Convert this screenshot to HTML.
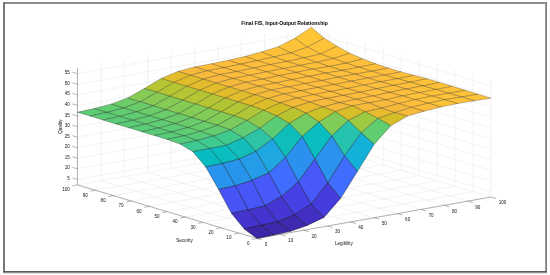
<!DOCTYPE html>
<html><head><meta charset="utf-8"><title>Final FIS, Input-Output Relationship</title>
<style>
html,body{margin:0;padding:0;background:#fff;}
body{width:550px;height:275px;overflow:hidden;position:relative;}
.fr{position:absolute;}
svg{position:absolute;left:0;top:0;filter:blur(0.3px);}
</style></head><body>
<div class="fr" style="left:3px;top:2px;width:544px;height:2px;background:#8a8a8a"></div>
<div class="fr" style="left:3px;top:2px;width:2px;height:271px;background:#787878"></div>
<div class="fr" style="left:545px;top:2px;width:1px;height:271px;background:#9c9c9c"></div>
<div class="fr" style="left:546px;top:2px;width:1px;height:271px;background:#7e7e7e"></div>
<div class="fr" style="left:3px;top:271px;width:544px;height:1px;background:#5a5a5a"></div>
<div class="fr" style="left:3px;top:272px;width:544px;height:1px;background:#8e8e8e"></div>
<div class="fr" style="left:4px;top:273px;width:544px;height:1px;background:#e2e2e2"></div>
<svg width="550" height="275" viewBox="0 0 550 275">
<path d="M257.1 238.5L491.1 197M257.1 238.5L77.45 184.9M77.45 184.9L77.45 67.98M491.1 197L491.1 80.08M239.14 233.14L473.13 191.64M280.5 234.35L100.85 180.75M100.85 180.75L100.85 63.83M473.13 191.64L473.13 74.72M221.17 227.78L455.17 186.28M303.9 230.2L124.25 176.6M124.25 176.6L124.25 59.68M455.17 186.28L455.17 69.36M203.21 222.42L437.21 180.92M327.3 226.05L147.65 172.45M147.65 172.45L147.65 55.53M437.21 180.92L437.21 64M185.24 217.06L419.24 175.56M350.7 221.9L171.05 168.3M171.05 168.3L171.05 51.38M419.24 175.56L419.24 58.64M167.28 211.7L401.27 170.2M374.1 217.75L194.45 164.15M194.45 164.15L194.45 47.23M401.27 170.2L401.27 53.28M149.31 206.34L383.31 164.84M397.5 213.6L217.85 160M217.85 160L217.85 43.08M383.31 164.84L383.31 47.92M131.35 200.98L365.35 159.48M420.9 209.45L241.25 155.85M241.25 155.85L241.25 38.93M365.35 159.48L365.35 42.56M113.38 195.62L347.38 154.12M444.3 205.3L264.65 151.7M264.65 151.7L264.65 34.78M347.38 154.12L347.38 37.2M95.41 190.26L329.41 148.76M467.7 201.15L288.05 147.55M288.05 147.55L288.05 30.63M329.41 148.76L329.41 31.84M77.45 184.9L311.45 143.4M491.1 197L311.45 143.4M311.45 143.4L311.45 26.48M311.45 143.4L311.45 26.48M77.45 179.44L311.45 137.94M311.45 137.94L491.1 191.54M77.45 168.87L311.45 127.37M311.45 127.37L491.1 180.97M77.45 158.29L311.45 116.79M311.45 116.79L491.1 170.39M77.45 147.72L311.45 106.22M311.45 106.22L491.1 159.82M77.45 137.14L311.45 95.64M311.45 95.64L491.1 149.24M77.45 126.57L311.45 85.07M311.45 85.07L491.1 138.67M77.45 115.99L311.45 74.49M311.45 74.49L491.1 128.09M77.45 105.42L311.45 63.92M311.45 63.92L491.1 117.52M77.45 94.84L311.45 53.34M311.45 53.34L491.1 106.94M77.45 84.27L311.45 42.77M311.45 42.77L491.1 96.37M77.45 73.69L311.45 32.19M311.45 32.19L491.1 85.79" fill="none" stroke="#e7e7e7" stroke-width="0.5"/>
<path d="M77.45 184.9L77.45 67.98M77.45 184.9L257.1 238.5M257.1 238.5L491.1 197M257.1 238.5L251.88 239.43M257.1 238.5L262.18 240.02M239.14 233.14L233.92 234.07M280.5 234.35L285.58 235.87M221.17 227.78L215.95 228.71M303.9 230.2L308.98 231.72M203.21 222.42L197.99 223.35M327.3 226.05L332.38 227.57M185.24 217.06L180.02 217.99M350.7 221.9L355.78 223.42M167.28 211.7L162.06 212.63M374.1 217.75L379.18 219.27M149.31 206.34L144.09 207.27M397.5 213.6L402.58 215.12M131.35 200.98L126.13 201.91M420.9 209.45L425.98 210.97M113.38 195.62L108.16 196.55M444.3 205.3L449.38 206.82M95.41 190.26L90.2 191.19M467.7 201.15L472.78 202.67M77.45 184.9L72.23 185.83M491.1 197L496.18 198.52M77.45 179.44L72.37 177.93M77.45 168.87L72.37 167.35M77.45 158.29L72.37 156.78M77.45 147.72L72.37 146.2M77.45 137.14L72.37 135.63M77.45 126.57L72.37 125.05M77.45 115.99L72.37 114.48M77.45 105.42L72.37 103.9M77.45 94.84L72.37 93.33M77.45 84.27L72.37 82.75M77.45 73.69L72.37 72.18" fill="none" stroke="#6c6c6c" stroke-width="0.5"/>
<g stroke="#000" stroke-opacity="0.55" stroke-width="0.45" stroke-linejoin="round">
<path d="M307.57 47.02L324.28 38.14L311.45 27.33L294.74 38.33Z" fill="#fec636" stroke-opacity="0.48"/>
<path d="M290.85 52.95L307.57 47.02L294.74 38.33L278.02 46.79Z" fill="#fec338" stroke-opacity="0.48"/>
<path d="M320.4 54.02L337.11 46.2L324.28 38.14L307.57 47.02Z" fill="#fec339" stroke-opacity="0.49"/>
<path d="M274.14 56.97L290.85 52.95L278.02 46.79L261.31 52.08Z" fill="#fec239" stroke-opacity="0.49"/>
<path d="M303.69 57.83L320.4 54.02L307.57 47.02L290.85 52.95Z" fill="#fec239" stroke-opacity="0.49"/>
<path d="M333.23 58.49L349.95 53.2L337.11 46.2L320.4 54.02Z" fill="#fec239" stroke-opacity="0.49"/>
<path d="M257.42 60.55L274.14 56.97L261.31 52.08L244.59 56.53Z" fill="#fec03a" stroke-opacity="0.49"/>
<path d="M286.97 61.43L303.69 57.83L290.85 52.95L274.14 56.97Z" fill="#fec03a" stroke-opacity="0.49"/>
<path d="M316.52 62.3L333.23 58.49L320.4 54.02L303.69 57.83Z" fill="#fec03a" stroke-opacity="0.49"/>
<path d="M346.06 63.16L362.78 58.93L349.95 53.2L333.23 58.49Z" fill="#fec03a" stroke-opacity="0.49"/>
<path d="M240.71 64.17L257.42 60.55L244.59 56.53L227.88 60.34Z" fill="#febe3c" stroke-opacity="0.49"/>
<path d="M270.26 64.54L286.97 61.43L274.14 56.97L257.42 60.55Z" fill="#fec03b" stroke-opacity="0.49"/>
<path d="M299.8 65.47L316.52 62.3L303.69 57.83L286.97 61.43Z" fill="#fec03b" stroke-opacity="0.49"/>
<path d="M329.35 66.44L346.06 63.16L333.23 58.49L316.52 62.3Z" fill="#febf3b" stroke-opacity="0.49"/>
<path d="M224 67.66L240.71 64.17L227.88 60.34L211.16 63.83Z" fill="#fdbd3d" stroke-opacity="0.49"/>
<path d="M358.9 67.2L375.61 63.81L362.78 58.93L346.06 63.16Z" fill="#fec03b" stroke-opacity="0.49"/>
<path d="M253.54 68L270.26 64.54L257.42 60.55L240.71 64.17Z" fill="#febe3c" stroke-opacity="0.49"/>
<path d="M283.09 68.52L299.8 65.47L286.97 61.43L270.26 64.54Z" fill="#febf3b" stroke-opacity="0.49"/>
<path d="M312.64 69.09L329.35 66.44L316.52 62.3L299.8 65.47Z" fill="#fec03a" stroke-opacity="0.49"/>
<path d="M207.28 70.73L224 67.66L211.16 63.83L194.45 66.9Z" fill="#fdbd3d" stroke-opacity="0.49"/>
<path d="M342.18 70.38L358.9 67.2L346.06 63.16L329.35 66.44Z" fill="#febf3b" stroke-opacity="0.49"/>
<path d="M236.83 71.5L253.54 68L240.71 64.17L224 67.66Z" fill="#fdbd3d" stroke-opacity="0.49"/>
<path d="M371.73 71.24L388.44 68.07L375.61 63.81L358.9 67.2Z" fill="#febf3b" stroke-opacity="0.49"/>
<path d="M266.38 71.83L283.09 68.52L270.26 64.54L253.54 68Z" fill="#febe3c" stroke-opacity="0.49"/>
<path d="M295.92 72.4L312.64 69.09L299.8 65.47L283.09 68.52Z" fill="#febf3b" stroke-opacity="0.49"/>
<path d="M190.57 75.28L207.28 70.73L194.45 66.9L177.74 71.45Z" fill="#f7ba3c" stroke-opacity="0.50"/>
<path d="M325.47 73.13L342.18 70.38L329.35 66.44L312.64 69.09Z" fill="#fec03b" stroke-opacity="0.49"/>
<path d="M220.11 74.6L236.83 71.5L224 67.66L207.28 70.73Z" fill="#fcbd3d" stroke-opacity="0.49"/>
<path d="M355.01 74.13L371.73 71.24L358.9 67.2L342.18 70.38Z" fill="#febf3b" stroke-opacity="0.49"/>
<path d="M249.66 75.34L266.38 71.83L253.54 68L236.83 71.5Z" fill="#fdbd3d" stroke-opacity="0.49"/>
<path d="M384.56 75.11L401.27 71.89L388.44 68.07L371.73 71.24Z" fill="#febf3b" stroke-opacity="0.49"/>
<path d="M279.21 75.66L295.92 72.4L283.09 68.52L266.38 71.83Z" fill="#febe3c" stroke-opacity="0.49"/>
<path d="M173.85 82.37L190.57 75.28L177.74 71.45L161.02 78.54Z" fill="#e3bc2c" stroke-opacity="0.52"/>
<path d="M308.75 76.43L325.47 73.13L312.64 69.09L295.92 72.4Z" fill="#febf3c" stroke-opacity="0.49"/>
<path d="M203.4 79.18L220.11 74.6L207.28 70.73L190.57 75.28Z" fill="#f7ba3c" stroke-opacity="0.50"/>
<path d="M338.3 77.22L355.01 74.13L342.18 70.38L325.47 73.13Z" fill="#febf3c" stroke-opacity="0.49"/>
<path d="M232.95 78.47L249.66 75.34L236.83 71.5L220.11 74.6Z" fill="#fcbd3d" stroke-opacity="0.49"/>
<path d="M367.85 78.07L384.56 75.11L371.73 71.24L355.01 74.13Z" fill="#febf3b" stroke-opacity="0.49"/>
<path d="M262.49 79.17L279.21 75.66L266.38 71.83L249.66 75.34Z" fill="#fdbd3d" stroke-opacity="0.49"/>
<path d="M157.14 92.31L173.85 82.37L161.02 78.54L144.31 88.49Z" fill="#b7c532" stroke-opacity="0.54"/>
<path d="M397.39 78.69L414.11 75.3L401.27 71.89L384.56 75.11Z" fill="#fec03b" stroke-opacity="0.49"/>
<path d="M292.04 79.6L308.75 76.43L295.92 72.4L279.21 75.66Z" fill="#febe3c" stroke-opacity="0.49"/>
<path d="M186.69 86.3L203.4 79.18L190.57 75.28L173.85 82.37Z" fill="#e3bc2c" stroke-opacity="0.52"/>
<path d="M321.59 80.49L338.3 77.22L325.47 73.13L308.75 76.43Z" fill="#febe3c" stroke-opacity="0.49"/>
<path d="M216.23 83.07L232.95 78.47L220.11 74.6L203.4 79.18Z" fill="#f7ba3c" stroke-opacity="0.50"/>
<path d="M351.13 81.2L367.85 78.07L355.01 74.13L338.3 77.22Z" fill="#febe3c" stroke-opacity="0.49"/>
<path d="M245.78 82.3L262.49 79.17L249.66 75.34L232.95 78.47Z" fill="#fcbd3d" stroke-opacity="0.49"/>
<path d="M140.42 101.83L157.14 92.31L144.31 88.49L127.59 98.01Z" fill="#86cb55" stroke-opacity="0.57"/>
<path d="M380.68 81.81L397.39 78.69L384.56 75.11L367.85 78.07Z" fill="#febf3b" stroke-opacity="0.49"/>
<path d="M275.32 83.01L292.04 79.6L279.21 75.66L262.49 79.17Z" fill="#fdbd3d" stroke-opacity="0.49"/>
<path d="M169.97 96.25L186.69 86.3L173.85 82.37L157.14 92.31Z" fill="#b6c532" stroke-opacity="0.54"/>
<path d="M410.23 82.19L426.94 78.71L414.11 75.3L397.39 78.69Z" fill="#fec13a" stroke-opacity="0.49"/>
<path d="M304.87 83.53L321.59 80.49L308.75 76.43L292.04 79.6Z" fill="#febe3c" stroke-opacity="0.49"/>
<path d="M199.52 90.22L216.23 83.07L203.4 79.18L186.69 86.3Z" fill="#e2bc2b" stroke-opacity="0.52"/>
<path d="M334.42 84.51L351.13 81.2L338.3 77.22L321.59 80.49Z" fill="#febd3c" stroke-opacity="0.49"/>
<path d="M229.06 86.9L245.78 82.3L232.95 78.47L216.23 83.07Z" fill="#f7ba3c" stroke-opacity="0.50"/>
<path d="M123.71 107.97L140.42 101.83L127.59 98.01L110.88 104.14Z" fill="#6ccd68" stroke-opacity="0.58"/>
<path d="M363.96 85.07L380.68 81.81L367.85 78.07L351.13 81.2Z" fill="#febe3c" stroke-opacity="0.49"/>
<path d="M258.61 86.16L275.32 83.01L262.49 79.17L245.78 82.3Z" fill="#fcbd3d" stroke-opacity="0.49"/>
<path d="M153.26 105.77L169.97 96.25L157.14 92.31L140.42 101.83Z" fill="#85cb56" stroke-opacity="0.57"/>
<path d="M393.51 85.39L410.23 82.19L397.39 78.69L380.68 81.81Z" fill="#fec03b" stroke-opacity="0.49"/>
<path d="M288.16 86.84L304.87 83.53L292.04 79.6L275.32 83.01Z" fill="#fdbd3d" stroke-opacity="0.49"/>
<path d="M182.8 100.19L199.52 90.22L186.69 86.3L169.97 96.25Z" fill="#b6c533" stroke-opacity="0.54"/>
<path d="M423.06 85.89L439.77 82.53L426.94 78.71L410.23 82.19Z" fill="#fec13a" stroke-opacity="0.49"/>
<path d="M317.7 87.47L334.42 84.51L321.59 80.49L304.87 83.53Z" fill="#febd3c" stroke-opacity="0.49"/>
<path d="M212.35 94.05L229.06 86.9L216.23 83.07L199.52 90.22Z" fill="#e2bc2b" stroke-opacity="0.52"/>
<path d="M107 112.42L123.71 107.97L110.88 104.14L94.16 108.59Z" fill="#61cd71" stroke-opacity="0.59"/>
<path d="M347.25 88.49L363.96 85.07L351.13 81.2L334.42 84.51Z" fill="#fdbd3d" stroke-opacity="0.49"/>
<path d="M241.9 90.8L258.61 86.16L245.78 82.3L229.06 86.9Z" fill="#f6ba3c" stroke-opacity="0.50"/>
<path d="M136.54 111.91L153.26 105.77L140.42 101.83L123.71 107.97Z" fill="#6bcd69" stroke-opacity="0.58"/>
<path d="M376.8 88.74L393.51 85.39L380.68 81.81L363.96 85.07Z" fill="#febf3c" stroke-opacity="0.49"/>
<path d="M271.44 90.03L288.16 86.84L275.32 83.01L258.61 86.16Z" fill="#fcbd3d" stroke-opacity="0.49"/>
<path d="M166.09 109.71L182.8 100.19L169.97 96.25L153.26 105.77Z" fill="#84cc56" stroke-opacity="0.57"/>
<path d="M406.34 89.03L423.06 85.89L410.23 82.19L393.51 85.39Z" fill="#fec03a" stroke-opacity="0.49"/>
<path d="M300.99 90.67L317.7 87.47L304.87 83.53L288.16 86.84Z" fill="#fdbd3d" stroke-opacity="0.49"/>
<path d="M195.64 104.02L212.35 94.05L199.52 90.22L182.8 100.19Z" fill="#b6c533" stroke-opacity="0.54"/>
<path d="M435.89 89.52L452.6 86.36L439.77 82.53L423.06 85.89Z" fill="#fec239" stroke-opacity="0.49"/>
<path d="M90.28 116.01L107 112.42L94.16 108.59L77.45 112.19Z" fill="#5dcc75" stroke-opacity="0.59"/>
<path d="M330.54 91.42L347.25 88.49L334.42 84.51L317.7 87.47Z" fill="#fdbd3d" stroke-opacity="0.49"/>
<path d="M225.18 97.98L241.9 90.8L229.06 86.9L212.35 94.05Z" fill="#e2bc2b" stroke-opacity="0.52"/>
<path d="M119.83 116.35L136.54 111.91L123.71 107.97L107 112.42Z" fill="#61cd72" stroke-opacity="0.59"/>
<path d="M360.08 92.26L376.8 88.74L363.96 85.07L347.25 88.49Z" fill="#fdbd3d" stroke-opacity="0.49"/>
<path d="M254.73 94.69L271.44 90.03L258.61 86.16L241.9 90.8Z" fill="#f6ba3b" stroke-opacity="0.50"/>
<path d="M149.38 115.84L166.09 109.71L153.26 105.77L136.54 111.91Z" fill="#6bcd69" stroke-opacity="0.58"/>
<path d="M389.63 92.4L406.34 89.03L393.51 85.39L376.8 88.74Z" fill="#febf3b" stroke-opacity="0.49"/>
<path d="M284.27 93.86L300.99 90.67L288.16 86.84L271.44 90.03Z" fill="#fcbd3d" stroke-opacity="0.49"/>
<path d="M178.92 113.53L195.64 104.02L182.8 100.19L166.09 109.71Z" fill="#84cc56" stroke-opacity="0.57"/>
<path d="M419.18 92.55L435.89 89.52L423.06 85.89L406.34 89.03Z" fill="#fec13a" stroke-opacity="0.49"/>
<path d="M313.82 94.58L330.54 91.42L317.7 87.47L300.99 90.67Z" fill="#fdbd3d" stroke-opacity="0.49"/>
<path d="M208.47 107.96L225.18 97.98L212.35 94.05L195.64 104.02Z" fill="#b5c533" stroke-opacity="0.54"/>
<path d="M448.72 93.2L465.44 90.3L452.6 86.36L435.89 89.52Z" fill="#fec239" stroke-opacity="0.49"/>
<path d="M103.11 119.95L119.83 116.35L107 112.42L90.28 116.01Z" fill="#5ccc76" stroke-opacity="0.59"/>
<path d="M343.37 95.43L360.08 92.26L347.25 88.49L330.54 91.42Z" fill="#fdbd3d" stroke-opacity="0.49"/>
<path d="M238.01 101.9L254.73 94.69L241.9 90.8L225.18 97.98Z" fill="#e1bc2b" stroke-opacity="0.52"/>
<path d="M132.66 120.28L149.38 115.84L136.54 111.91L119.83 116.35Z" fill="#60cd72" stroke-opacity="0.59"/>
<path d="M372.91 96.04L389.63 92.4L376.8 88.74L360.08 92.26Z" fill="#fdbd3d" stroke-opacity="0.49"/>
<path d="M267.56 98.52L284.27 93.86L271.44 90.03L254.73 94.69Z" fill="#f6ba3b" stroke-opacity="0.50"/>
<path d="M162.21 119.67L178.92 113.53L166.09 109.71L149.38 115.84Z" fill="#6bcd69" stroke-opacity="0.58"/>
<path d="M402.46 95.95L419.18 92.55L406.34 89.03L389.63 92.4Z" fill="#fec03b" stroke-opacity="0.49"/>
<path d="M297.11 98L313.82 94.58L300.99 90.67L284.27 93.86Z" fill="#fbbc3d" stroke-opacity="0.49"/>
<path d="M191.75 117.47L208.47 107.96L195.64 104.02L178.92 113.53Z" fill="#83cc57" stroke-opacity="0.57"/>
<path d="M432.01 96.1L448.72 93.2L435.89 89.52L419.18 92.55Z" fill="#fec239" stroke-opacity="0.49"/>
<path d="M326.65 98.4L343.37 95.43L330.54 91.42L313.82 94.58Z" fill="#fdbd3d" stroke-opacity="0.49"/>
<path d="M221.3 111.89L238.01 101.9L225.18 97.98L208.47 107.96Z" fill="#b4c533" stroke-opacity="0.54"/>
<path d="M461.55 96.97L478.27 94.23L465.44 90.3L448.72 93.2Z" fill="#fec239" stroke-opacity="0.49"/>
<path d="M115.95 123.88L132.66 120.28L119.83 116.35L103.11 119.95Z" fill="#5bcc76" stroke-opacity="0.59"/>
<path d="M356.2 99.26L372.91 96.04L360.08 92.26L343.37 95.43Z" fill="#fdbd3d" stroke-opacity="0.49"/>
<path d="M250.85 105.73L267.56 98.52L254.73 94.69L238.01 101.9Z" fill="#e1bc2b" stroke-opacity="0.52"/>
<path d="M145.49 124.11L162.21 119.67L149.38 115.84L132.66 120.28Z" fill="#60cd72" stroke-opacity="0.59"/>
<path d="M385.75 99.81L402.46 95.95L389.63 92.4L372.91 96.04Z" fill="#febd3c" stroke-opacity="0.49"/>
<path d="M280.39 102.89L297.11 98L284.27 93.86L267.56 98.52Z" fill="#f4ba39" stroke-opacity="0.50"/>
<path d="M175.04 123.61L191.75 117.47L178.92 113.53L162.21 119.67Z" fill="#6acd6a" stroke-opacity="0.58"/>
<path d="M415.29 99.5L432.01 96.1L419.18 92.55L402.46 95.95Z" fill="#fec13a" stroke-opacity="0.49"/>
<path d="M309.94 101.99L326.65 98.4L313.82 94.58L297.11 98Z" fill="#fbbc3d" stroke-opacity="0.50"/>
<path d="M204.59 121.41L221.3 111.89L208.47 107.96L191.75 117.47Z" fill="#82cc58" stroke-opacity="0.57"/>
<path d="M444.84 99.78L461.55 96.97L448.72 93.2L432.01 96.1Z" fill="#fec239" stroke-opacity="0.49"/>
<path d="M339.49 102.65L356.2 99.26L343.37 95.43L326.65 98.4Z" fill="#fbbc3d" stroke-opacity="0.49"/>
<path d="M234.13 115.72L250.85 105.73L238.01 101.9L221.3 111.89Z" fill="#b4c533" stroke-opacity="0.54"/>
<path d="M474.39 100.81L491.1 98.17L478.27 94.23L461.55 96.97Z" fill="#fec239" stroke-opacity="0.49"/>
<path d="M128.78 127.71L145.49 124.11L132.66 120.28L115.95 123.88Z" fill="#5bcc76" stroke-opacity="0.59"/>
<path d="M369.03 102.77L385.75 99.81L372.91 96.04L356.2 99.26Z" fill="#febd3c" stroke-opacity="0.49"/>
<path d="M263.68 110.23L280.39 102.89L267.56 98.52L250.85 105.73Z" fill="#ddbd29" stroke-opacity="0.52"/>
<path d="M158.32 128.05L175.04 123.61L162.21 119.67L145.49 124.11Z" fill="#5fcd73" stroke-opacity="0.59"/>
<path d="M398.58 103.57L415.29 99.5L402.46 95.95L385.75 99.81Z" fill="#febe3c" stroke-opacity="0.49"/>
<path d="M293.23 107.39L309.94 101.99L297.11 98L280.39 102.89Z" fill="#f1ba36" stroke-opacity="0.50"/>
<path d="M187.87 127.54L204.59 121.41L191.75 117.47L175.04 123.61Z" fill="#69cd6b" stroke-opacity="0.58"/>
<path d="M428.12 103.18L444.84 99.78L432.01 96.1L415.29 99.5Z" fill="#fec13a" stroke-opacity="0.49"/>
<path d="M322.77 106.88L339.49 102.65L326.65 98.4L309.94 101.99Z" fill="#f7ba3c" stroke-opacity="0.50"/>
<path d="M217.42 125.24L234.13 115.72L221.3 111.89L204.59 121.41Z" fill="#82cc58" stroke-opacity="0.57"/>
<path d="M457.67 103.57L474.39 100.81L461.55 96.97L444.84 99.78Z" fill="#fec239" stroke-opacity="0.49"/>
<path d="M352.32 105.84L369.03 102.77L356.2 99.26L339.49 102.65Z" fill="#fdbd3d" stroke-opacity="0.49"/>
<path d="M246.96 120.43L263.68 110.23L250.85 105.73L234.13 115.72Z" fill="#aec637" stroke-opacity="0.55"/>
<path d="M141.61 131.65L158.32 128.05L145.49 124.11L128.78 127.71Z" fill="#5bcc77" stroke-opacity="0.59"/>
<path d="M381.86 108.19L398.58 103.57L385.75 99.81L369.03 102.77Z" fill="#f9ba3d" stroke-opacity="0.50"/>
<path d="M276.51 115.96L293.23 107.39L280.39 102.89L263.68 110.23Z" fill="#d2bf27" stroke-opacity="0.53"/>
<path d="M171.16 131.98L187.87 127.54L175.04 123.61L158.32 128.05Z" fill="#5ecd74" stroke-opacity="0.59"/>
<path d="M411.41 107.37L428.12 103.18L415.29 99.5L398.58 103.57Z" fill="#febe3c" stroke-opacity="0.49"/>
<path d="M306.06 113.23L322.77 106.88L309.94 101.99L293.23 107.39Z" fill="#e7bb2d" stroke-opacity="0.51"/>
<path d="M200.7 131.37L217.42 125.24L204.59 121.41L187.87 127.54Z" fill="#69cd6b" stroke-opacity="0.58"/>
<path d="M440.96 106.95L457.67 103.57L444.84 99.78L428.12 103.18Z" fill="#fec239" stroke-opacity="0.49"/>
<path d="M335.6 111.66L352.32 105.84L339.49 102.65L322.77 106.88Z" fill="#f2ba38" stroke-opacity="0.50"/>
<path d="M230.25 129.92L246.96 120.43L234.13 115.72L217.42 125.24Z" fill="#7bcc5d" stroke-opacity="0.57"/>
<path d="M365.15 111.78L381.86 108.19L369.03 102.77L352.32 105.84Z" fill="#f6ba3b" stroke-opacity="0.50"/>
<path d="M259.8 128.23L276.51 115.96L263.68 110.23L246.96 120.43Z" fill="#90ca4d" stroke-opacity="0.56"/>
<path d="M154.44 135.58L171.16 131.98L158.32 128.05L141.61 131.65Z" fill="#5acc77" stroke-opacity="0.59"/>
<path d="M394.7 112.65L411.41 107.37L398.58 103.57L381.86 108.19Z" fill="#f6ba3b" stroke-opacity="0.50"/>
<path d="M289.34 123.38L306.06 113.23L293.23 107.39L276.51 115.96Z" fill="#bac430" stroke-opacity="0.54"/>
<path d="M183.99 135.81L200.7 131.37L187.87 127.54L171.16 131.98Z" fill="#5ecd74" stroke-opacity="0.59"/>
<path d="M424.24 111.19L440.96 106.95L428.12 103.18L411.41 107.37Z" fill="#febe3c" stroke-opacity="0.49"/>
<path d="M318.89 121.92L335.6 111.66L322.77 106.88L306.06 113.23Z" fill="#cac129" stroke-opacity="0.53"/>
<path d="M213.54 136.06L230.25 129.92L217.42 125.24L200.7 131.37Z" fill="#63cd70" stroke-opacity="0.58"/>
<path d="M348.44 120.46L365.15 111.78L352.32 105.84L335.6 111.66Z" fill="#d8be28" stroke-opacity="0.52"/>
<path d="M243.08 137.75L259.8 128.23L246.96 120.43L230.25 129.92Z" fill="#5dcc75" stroke-opacity="0.59"/>
<path d="M377.98 118.36L394.7 112.65L381.86 108.19L365.15 111.78Z" fill="#e9bb2f" stroke-opacity="0.51"/>
<path d="M272.63 138.83L289.34 123.38L276.51 115.96L259.8 128.23Z" fill="#5bcc76" stroke-opacity="0.59"/>
<path d="M167.28 139.41L183.99 135.81L171.16 131.98L154.44 135.58Z" fill="#5acc77" stroke-opacity="0.59"/>
<path d="M407.53 116.05L424.24 111.19L411.41 107.37L394.7 112.65Z" fill="#f8ba3d" stroke-opacity="0.50"/>
<path d="M302.18 136.52L318.89 121.92L306.06 113.23L289.34 123.38Z" fill="#73cd63" stroke-opacity="0.58"/>
<path d="M196.82 140.49L213.54 136.06L200.7 131.37L183.99 135.81Z" fill="#58cc79" stroke-opacity="0.59"/>
<path d="M331.72 135.8L348.44 120.46L335.6 111.66L318.89 121.92Z" fill="#80cc59" stroke-opacity="0.57"/>
<path d="M226.37 145.37L243.08 137.75L230.25 129.92L213.54 136.06Z" fill="#3fca8e" stroke-opacity="0.61"/>
<path d="M361.27 132.75L377.98 118.36L365.15 111.78L348.44 120.46Z" fill="#9ec942" stroke-opacity="0.56"/>
<path d="M255.91 151.2L272.63 138.83L259.8 128.23L243.08 137.75Z" fill="#2dc4a5" stroke-opacity="0.63"/>
<path d="M390.81 125.79L407.53 116.05L394.7 112.65L377.98 118.36Z" fill="#d5be28" stroke-opacity="0.52"/>
<path d="M285.46 157.46L302.18 136.52L289.34 123.38L272.63 138.83Z" fill="#0fbeba" stroke-opacity="0.65"/>
<path d="M180.11 144.08L196.82 140.49L183.99 135.81L167.28 139.41Z" fill="#54cc7c" stroke-opacity="0.59"/>
<path d="M315.01 159.17L331.72 135.8L318.89 121.92L302.18 136.52Z" fill="#0abdbe" stroke-opacity="0.65"/>
<path d="M209.65 148.54L226.37 145.37L213.54 136.06L196.82 140.49Z" fill="#3eca90" stroke-opacity="0.61"/>
<path d="M344.55 155.8L361.27 132.75L348.44 120.46L331.72 135.8Z" fill="#25c2ad" stroke-opacity="0.63"/>
<path d="M239.2 159.14L255.91 151.2L243.08 137.75L226.37 145.37Z" fill="#12beb9" stroke-opacity="0.64"/>
<path d="M374.1 144.4L390.81 125.79L377.98 118.36L361.27 132.75Z" fill="#61cd71" stroke-opacity="0.59"/>
<path d="M268.75 172.9L285.46 157.46L272.63 138.83L255.91 151.2Z" fill="#1ea7e1" stroke-opacity="0.69"/>
<path d="M298.29 181.8L315.01 159.17L302.18 136.52L285.46 157.46Z" fill="#2a92ee" stroke-opacity="0.73"/>
<path d="M192.94 151.72L209.65 148.54L196.82 140.49L180.11 144.08Z" fill="#3dc991" stroke-opacity="0.61"/>
<path d="M327.84 182.88L344.55 155.8L331.72 135.8L315.01 159.17Z" fill="#2b92ee" stroke-opacity="0.73"/>
<path d="M222.49 163.38L239.2 159.14L226.37 145.37L209.65 148.54Z" fill="#0abdbe" stroke-opacity="0.65"/>
<path d="M357.39 171.48L374.1 144.4L361.27 132.75L344.55 155.8Z" fill="#13b0d7" stroke-opacity="0.68"/>
<path d="M252.03 180.31L268.75 172.9L255.91 151.2L239.2 159.14Z" fill="#259ce7" stroke-opacity="0.71"/>
<path d="M281.58 196.4L298.29 181.8L285.46 157.46L268.75 172.9Z" fill="#3f6eff" stroke-opacity="0.77"/>
<path d="M311.12 204.03L327.84 182.88L315.01 159.17L298.29 181.8Z" fill="#4759f8" stroke-opacity="0.80"/>
<path d="M205.77 166.97L222.49 163.38L209.65 148.54L192.94 151.72Z" fill="#06bcc0" stroke-opacity="0.65"/>
<path d="M340.67 198.34L357.39 171.48L344.55 155.8L327.84 182.88Z" fill="#3f6efe" stroke-opacity="0.77"/>
<path d="M235.32 185.83L252.03 180.31L239.2 159.14L222.49 163.38Z" fill="#2895ec" stroke-opacity="0.72"/>
<path d="M264.86 205.96L281.58 196.4L268.75 172.9L252.03 180.31Z" fill="#475af9" stroke-opacity="0.80"/>
<path d="M294.41 214.82L311.12 204.03L298.29 181.8L281.58 196.4Z" fill="#4741e5" stroke-opacity="0.83"/>
<path d="M323.96 217.38L340.67 198.34L327.84 182.88L311.12 204.03Z" fill="#463cde" stroke-opacity="0.83"/>
<path d="M218.6 189.41L235.32 185.83L222.49 163.38L205.77 166.97Z" fill="#2994ed" stroke-opacity="0.72"/>
<path d="M248.15 209.76L264.86 205.96L252.03 180.31L235.32 185.83Z" fill="#4757f7" stroke-opacity="0.80"/>
<path d="M277.7 221.78L294.41 214.82L281.58 196.4L264.86 205.96Z" fill="#4536d3" stroke-opacity="0.84"/>
<path d="M307.24 225.42L323.96 217.38L311.12 204.03L294.41 214.82Z" fill="#422fc3" stroke-opacity="0.85"/>
<path d="M231.44 213.33L248.15 209.76L235.32 185.83L218.6 189.41Z" fill="#4755f6" stroke-opacity="0.80"/>
<path d="M260.98 225.44L277.7 221.78L264.86 205.96L248.15 209.76Z" fill="#4434cf" stroke-opacity="0.85"/>
<path d="M290.53 231.34L307.24 225.42L294.41 214.82L277.7 221.78Z" fill="#3f29b0" stroke-opacity="0.87"/>
<path d="M244.27 229L260.98 225.44L248.15 209.76L231.44 213.33Z" fill="#4433cc" stroke-opacity="0.85"/>
<path d="M273.81 234.94L290.53 231.34L277.7 221.78L260.98 225.44Z" fill="#3e28ac" stroke-opacity="0.87"/>
<path d="M257.1 238.5L273.81 234.94L260.98 225.44L244.27 229Z" fill="#3e26a8" stroke-opacity="0.87"/>
</g>
<g font-family="'Liberation Sans', Arial, Helvetica, sans-serif" font-size="4.6" fill="#141414">
<text x="249.45" y="244.75" text-anchor="end">0</text>
<text x="264.7" y="245.85">0</text>
<text x="231.49" y="239.39" text-anchor="end">10</text>
<text x="288.1" y="241.7">10</text>
<text x="213.52" y="234.03" text-anchor="end">20</text>
<text x="311.5" y="237.55">20</text>
<text x="195.56" y="228.67" text-anchor="end">30</text>
<text x="334.9" y="233.4">30</text>
<text x="177.59" y="223.31" text-anchor="end">40</text>
<text x="358.3" y="229.25">40</text>
<text x="159.62" y="217.95" text-anchor="end">50</text>
<text x="381.7" y="225.1">50</text>
<text x="141.66" y="212.59" text-anchor="end">60</text>
<text x="405.1" y="220.95">60</text>
<text x="123.7" y="207.23" text-anchor="end">70</text>
<text x="428.5" y="216.8">70</text>
<text x="105.73" y="201.87" text-anchor="end">80</text>
<text x="451.9" y="212.65">80</text>
<text x="87.76" y="196.51" text-anchor="end">90</text>
<text x="475.3" y="208.5">90</text>
<text x="69.8" y="191.15" text-anchor="end">100</text>
<text x="498.7" y="204.35">100</text>
<text x="69.9" y="179.99" text-anchor="end">5</text>
<text x="69.9" y="169.42" text-anchor="end">10</text>
<text x="69.9" y="158.84" text-anchor="end">15</text>
<text x="69.9" y="148.27" text-anchor="end">20</text>
<text x="69.9" y="137.69" text-anchor="end">25</text>
<text x="69.9" y="127.12" text-anchor="end">30</text>
<text x="69.9" y="116.54" text-anchor="end">35</text>
<text x="69.9" y="105.97" text-anchor="end">40</text>
<text x="69.9" y="95.39" text-anchor="end">45</text>
<text x="69.9" y="84.82" text-anchor="end">50</text>
<text x="69.9" y="74.24" text-anchor="end">55</text>
<text x="184.5" y="241.5" text-anchor="middle">Security</text>
<text x="343.9" y="244.7" text-anchor="middle">Legibility</text>
<text transform="translate(61.8 126.6) rotate(-90)" text-anchor="middle">Quality</text>
<text x="284.5" y="25.2" text-anchor="middle" font-size="5.08" font-weight="bold" fill="#000" stroke="none">Final FIS, Input-Output Relationship</text>
</g>
</svg>
</body></html>
